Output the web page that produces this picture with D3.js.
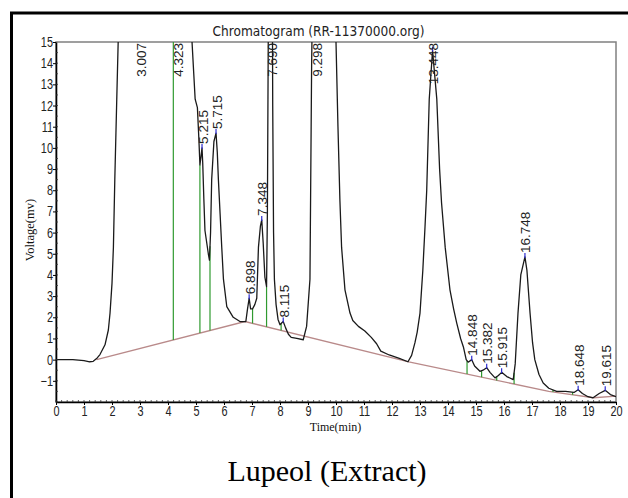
<!doctype html>
<html>
<head>
<meta charset="utf-8">
<title>Chromatogram</title>
<script src="https://d3js.org/d3.v7.min.js"></script>
<style>
  body { margin: 0; background: #fff; }
  svg { display: block; }
</style>
</head>
<body>
<div id="chart"></div>
<script>
// detector trace: retention time (min) and signal (mV), big peaks run off the top
var traceTime = [0, 0.6, 1.0, 1.2, 1.33, 1.45, 1.57, 1.75, 1.87, 1.93, 2.0, 2.05, 2.1, 2.17, 2.23, 2.4, 2.7, 3.007, 3.5, 4.0, 4.323, 4.6, 4.85,
  4.92, 4.97, 5.05, 5.1, 5.14, 5.18, 5.215, 5.24, 5.28, 5.32, 5.44, 5.48, 5.52, 5.56, 5.64, 5.715, 5.76, 5.8, 5.86, 5.92, 5.98, 6.1, 6.33, 6.57, 6.78,
  6.84, 6.898, 6.95, 7.02, 7.1, 7.17, 7.23, 7.3, 7.348, 7.4, 7.46, 7.52, 7.55, 7.58, 7.62, 7.69, 7.72, 7.74, 7.77, 7.8, 7.86, 7.93, 8.0, 8.05, 8.115,
  8.2, 8.3, 8.4, 8.6, 8.83, 8.95, 9.07, 9.13, 9.16, 9.298, 9.7, 9.95, 10.0, 10.07, 10.14, 10.2, 10.32, 10.5, 10.6, 10.8, 11.03, 11.26, 11.45, 11.6,
  11.9, 12.26, 12.57, 12.7, 12.82, 12.9, 13.0, 13.1, 13.18, 13.24, 13.33, 13.448, 13.6, 13.7, 13.77, 13.9, 14.07, 14.2, 14.31, 14.45, 14.55, 14.65,
  14.72, 14.848, 14.95, 15.14, 15.25, 15.382, 15.5, 15.68, 15.8, 15.915, 16.1, 16.33, 16.4, 16.5, 16.6, 16.748, 16.82, 16.93, 17.02, 17.1, 17.25,
  17.4, 17.6, 17.88, 18.2, 18.5, 18.648, 18.8, 19.0, 19.18, 19.4, 19.615, 19.8, 20];
var traceVolt = [0, 0, -0.05, -0.1, -0.08, 0.05, 0.24, 0.7, 1.4, 2.2, 3.6, 5.3, 8.5, 12.3, 15.5, 28, 45, 55, 50, 40, 36, 25, 15.2,
  13.5, 12.3, 11.9, 10.5, 9.2, 9.6, 10.0, 9.3, 7.6, 6.1, 5.0, 4.7, 6.0, 8.5, 10.3, 10.7, 9.8, 8.5, 6.9, 5.3, 3.8, 2.5, 2.0, 1.8, 1.8,
  2.4, 2.9, 2.4, 2.4, 2.6, 2.9, 5.3, 6.3, 6.6, 5.5, 3.9, 3.45, 7, 15, 25, 30, 20, 12, 6, 3.8, 2.6, 1.9, 1.65, 1.72, 1.8,
  1.5, 1.2, 1.05, 1.0, 0.94, 1.57, 3.8, 14, 17, 40, 40, 20, 15, 11, 7.5, 5.3, 3.3, 2.2, 1.85, 1.57, 1.35, 1.05, 0.75, 0.4,
  0.22, 0.06, -0.1, 0.2, 0.8, 1.3, 2.2, 4.2, 6.3, 8.0, 12.3, 14.6, 12.3, 9.0, 7.4, 5.3, 3.3, 2.4, 1.74, 1.0, 0.6, 0.0,
  -0.12, 0.0, -0.3, -0.55, -0.5, -0.38, -0.6, -0.86, -0.75, -0.6, -0.8, -0.94, -0.2, 2.2, 4.0, 4.85, 4.2, 2.2, 0.8, 0.0, -0.7,
  -1.1, -1.35, -1.5, -1.5, -1.55, -1.42, -1.6, -1.75, -1.8, -1.6, -1.45, -1.65, -1.75];

// detected peaks (retention time printed above each)
var peakLabels = ["3.007", "4.323", "5.215", "5.715", "6.898", "7.348", "7.690", "8.115", "9.298",
  "13.448", "14.848", "15.382", "15.915", "16.748", "18.648", "19.615"];

// integration baseline
var baseTime = [1.45, 6.75, 12.6, 17.6, 19.2, 20];
var baseVolt = [0, 1.8, -0.1, -1.5, -1.8, -1.72];

// peak boundary drop lines
var dropTime = [4.19, 5.14, 5.5, 7.02, 7.52, 8.04, 12.57, 14.68, 15.2, 15.74, 16.36, 17.75, 18.45, 19.17];

var xTicks = d3.range(0, 21);
var yTicks = d3.range(-1, 16);

var W = 628, H = 498;
var pLeft = 56, pRight = 616, pTop = 42, pBottom = 402;

var x = d3.scaleLinear().domain([0, 20]).range([pLeft, pRight]);
var y = d3.scaleLinear().domain([-2, 15]).range([pBottom, pTop]);

function valueAt(ts, vs, t) {
  var i = d3.bisectRight(ts, t);
  if (i <= 0) return vs[0];
  if (i >= ts.length) return vs[vs.length - 1];
  var f = (t - ts[i - 1]) / (ts[i] - ts[i - 1]);
  return vs[i - 1] + f * (vs[i] - vs[i - 1]);
}

var svg = d3.select("#chart").append("svg")
  .attr("width", W)
  .attr("height", H);

svg.append("rect").attr("width", W).attr("height", H).attr("fill", "#fff");

// outer frame (only top and left visible)
svg.append("path")
  .attr("d", "M11.5," + H + "V13H" + W)
  .attr("fill", "none")
  .attr("stroke", "#000")
  .attr("stroke-width", 3);

svg.append("clipPath").attr("id", "plotclip")
  .append("rect")
  .attr("x", pLeft).attr("y", pTop)
  .attr("width", pRight - pLeft).attr("height", pBottom - pTop);

// plot frame
svg.append("rect")
  .attr("x", pLeft).attr("y", pTop)
  .attr("width", pRight - pLeft).attr("height", pBottom - pTop)
  .attr("fill", "none")
  .attr("stroke", "#808080")
  .attr("stroke-width", 1.5);

var plot = svg.append("g").attr("clip-path", "url(#plotclip)");

// baseline
plot.append("path")
  .datum(d3.range(baseTime.length))
  .attr("fill", "none")
  .attr("stroke", "#b98a8a")
  .attr("stroke-width", 1.3)
  .attr("d", d3.line().x(function(i) { return x(baseTime[i]); }).y(function(i) { return y(baseVolt[i]); }));

// drop lines
plot.selectAll(".drop")
  .data(dropTime)
  .enter().append("line")
  .attr("class", "drop")
  .attr("x1", function(d) { return x(d); })
  .attr("x2", function(d) { return x(d); })
  .attr("y1", function(d) { return y(valueAt(baseTime, baseVolt, d)); })
  .attr("y2", function(d) { return y(valueAt(traceTime, traceVolt, d)); })
  .attr("stroke", "#2f9a2f")
  .attr("stroke-width", 1.2);

// trace
plot.append("path")
  .datum(d3.range(traceTime.length))
  .attr("fill", "none")
  .attr("stroke", "#1a1a1a")
  .attr("stroke-width", 1.3)
  .attr("stroke-linejoin", "round")
  .attr("d", d3.line().x(function(i) { return x(traceTime[i]); }).y(function(i) { return y(traceVolt[i]); }));

// apex markers for peaks that stay on scale
var peaks = peakLabels.map(function(s) {
  var t = +s;
  return { t: t, label: s, v: valueAt(traceTime, traceVolt, t) };
});

plot.selectAll(".apex")
  .data(peaks.filter(function(p) { return p.v < 15; }))
  .enter().append("line")
  .attr("class", "apex")
  .attr("x1", function(p) { return x(p.t); })
  .attr("x2", function(p) { return x(p.t); })
  .attr("y1", function(p) { return y(p.v) - 4; })
  .attr("y2", function(p) { return y(p.v) + 1; })
  .attr("stroke", "#2b2bd0")
  .attr("stroke-width", 1.2);

// peak labels, rotated, pushed down from the top when the peak is off scale
svg.selectAll(".plabel")
  .data(peaks)
  .enter().append("text")
  .attr("class", "plabel")
  .attr("font-family", "Arial, 'Liberation Sans', sans-serif")
  .attr("font-size", "13.5px")
  .attr("fill", "#222")
  .text(function(p) { return p.label; })
  .attr("transform", function(p) {
    var w = this.getComputedTextLength();
    var yb = Math.max(y(p.v) - 4, pTop + 1 + w);
    return "translate(" + (x(p.t) + 5.5) + "," + yb + ") rotate(-90)";
  });

// axes
var sx = 0.78;
function squeeze(g) {
  g.selectAll(".tick text")
    .attr("x", function() { return +d3.select(this).attr("x") / sx; })
    .attr("transform", "scale(" + sx + ",1)");
}

var xAxis = svg.append("g")
  .attr("transform", "translate(0," + pBottom + ")")
  .call(d3.axisBottom(x).tickValues(xTicks).tickSize(3).tickSizeOuter(0).tickPadding(1));
xAxis.select(".domain").attr("stroke", "#000").attr("stroke-width", 1.6);
xAxis.selectAll(".tick text")
  .attr("font-family", "Arial, 'Liberation Sans', sans-serif")
  .attr("font-size", "14px")
  .attr("fill", "#222");
squeeze(xAxis);

var yAxis = svg.append("g")
  .attr("transform", "translate(" + pLeft + ",0)")
  .call(d3.axisLeft(y).tickValues(yTicks).tickSize(3).tickSizeOuter(0).tickPadding(0));
yAxis.select(".domain").attr("stroke", "#000").attr("stroke-width", 1.6);
yAxis.selectAll(".tick text")
  .attr("font-family", "Arial, 'Liberation Sans', sans-serif")
  .attr("font-size", "14px")
  .attr("fill", "#222");
squeeze(yAxis);

// minor ticks on the inside
svg.append("g").selectAll("line")
  .data(d3.range(0, 100).map(function(i) { return i * 0.2; }))
  .enter().append("line")
  .attr("x1", function(d) { return x(d); })
  .attr("x2", function(d) { return x(d); })
  .attr("y1", pBottom)
  .attr("y2", pBottom - 2)
  .attr("stroke", "#333")
  .attr("stroke-width", 0.8);
svg.append("g").selectAll("line")
  .data(d3.range(0, 34).map(function(i) { return -2 + i * 0.5; }))
  .enter().append("line")
  .attr("x1", pLeft)
  .attr("x2", pLeft + 2)
  .attr("y1", function(d) { return y(d); })
  .attr("y2", function(d) { return y(d); })
  .attr("stroke", "#333")
  .attr("stroke-width", 0.8);

// titles
svg.append("text")
  .attr("x", 318.5)
  .attr("y", 36)
  .attr("text-anchor", "middle")
  .attr("font-family", "'DejaVu Sans', Verdana, sans-serif")
  .attr("font-size", "14px")
  .attr("fill", "#222")
  .attr("textLength", 212)
  .attr("lengthAdjust", "spacingAndGlyphs")
  .text("Chromatogram (RR-11370000.org)");

svg.append("text")
  .attr("x", 335.5)
  .attr("y", 431)
  .attr("text-anchor", "middle")
  .attr("font-family", "'Liberation Serif', 'Times New Roman', serif")
  .attr("font-size", "12px")
  .attr("fill", "#111")
  .text("Time(min)");

svg.append("text")
  .attr("transform", "translate(34,230) rotate(-90)")
  .attr("text-anchor", "middle")
  .attr("font-family", "'Liberation Serif', 'Times New Roman', serif")
  .attr("font-size", "12.5px")
  .attr("fill", "#111")
  .text("Voltage(mv)");

svg.append("text")
  .attr("x", 327)
  .attr("y", 481)
  .attr("text-anchor", "middle")
  .attr("font-family", "'Liberation Serif', 'Times New Roman', serif")
  .attr("font-size", "30px")
  .attr("fill", "#000")
  .text("Lupeol (Extract)");
</script>
</body>
</html>
